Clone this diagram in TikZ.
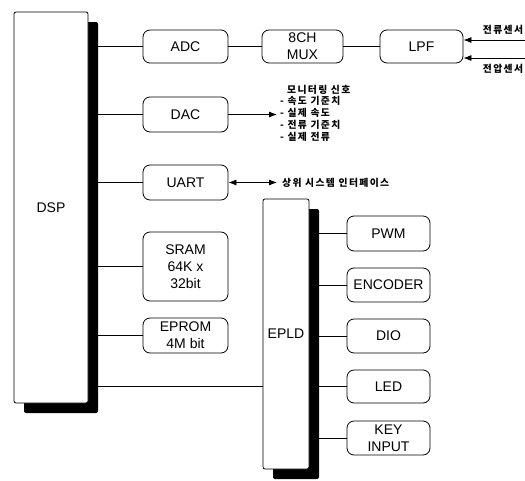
\documentclass[tikz,border=0pt]{standalone}
\usepackage{fontspec}
\setmainfont{Liberation Sans}
\newfontfamily\kr{Noto Sans CJK KR}[LetterSpace=14]
\usetikzlibrary{shadows,arrows.meta,backgrounds}
\begin{document}
\begin{tikzpicture}[x=1pt,y=-1pt,
 blk/.style={draw,line width=0.8pt,rounded corners=7pt,inner sep=0pt,align=center,font=\fontsize{14}{17}\selectfont,fill=white},
 big/.style={draw,line width=0.8pt,rounded corners=2pt,fill=white,inner sep=0pt,font=\fontsize{14}{17}\selectfont,drop shadow={shadow xshift=10pt,shadow yshift=-10pt,fill=black,opacity=1}},
 wire/.style={line width=0.8pt},
 arr/.style={line width=0.8pt,-{Latex[length=8pt,width=6pt]}},
 darr/.style={line width=0.8pt,{Latex[length=8pt,width=6pt]}-{Latex[length=8pt,width=6pt]}},
 kt/.style={font=\kr\bfseries\fontsize{9.8}{12}\selectfont,inner sep=0pt,align=left}]
\useasboundingbox (0,0) rectangle (525,480);
% big blocks
\node[big,minimum width=74pt,minimum height=391pt] (dsp) at (51,207.5) {DSP};
\node[big,minimum width=46pt,minimum height=270pt] (epld) at (286,334) {EPLD};
% left column
\node[blk,minimum width=85pt,minimum height=33pt] (adc) at (185.5,46.5) {ADC};
\node[blk,minimum width=81pt,minimum height=33pt] (mux) at (302.5,46.5) {8CH\\MUX};
\node[blk,minimum width=83pt,minimum height=33pt] (lpf) at (421.5,46.5) {LPF};
\node[blk,minimum width=85pt,minimum height=35pt] (dac) at (185.5,114.5) {DAC};
\node[blk,minimum width=85pt,minimum height=35pt] (uart) at (185.5,182.5) {UART};
\node[blk,minimum width=85pt,minimum height=69pt] (sram) at (185.5,266.5) {SRAM\\64K x\\ 32bit};
\node[blk,minimum width=85pt,minimum height=35pt] (eprom) at (185.5,335.5) {EPROM\\4M bit};
% right column
\node[blk,minimum width=83pt,minimum height=35pt] (pwm) at (388.5,233.5) {PWM};
\node[blk,minimum width=83pt,minimum height=34pt] (enc) at (388.5,285) {ENCODER};
\node[blk,minimum width=83pt,minimum height=34pt] (dio) at (388.5,336) {DIO};
\node[blk,minimum width=83pt,minimum height=33pt] (led) at (388.5,386.5) {LED};
\node[blk,minimum width=83pt,minimum height=34pt] (key) at (388.5,438) {KEY\\INPUT};
% texts
\node[kt,anchor=west] (montitle) at (287,90) {모니터링 신호};
\node[kt,anchor=north west] (monlist) at (280,96) {- 속도 기준치\\- 실제 속도\\- 전류 기준치\\- 실제 전류};
\node[kt,anchor=west] (host) at (282,182.5) {상위 시스템 인터페이스};
\node[kt] (cur) at (503,30) {전류센서};
\node[kt] (vol) at (503,69) {전압센서};
\coordinate (s1) at (525,40);
\coordinate (s2) at (525,58);
\coordinate (bus) at (200,386);
% connectors
\begin{pgfonlayer}{background}
\draw[wire] (adc.west) -- (adc.west -| dsp.east);
\draw[wire] (dac.west) -- (dac.west -| dsp.east);
\draw[wire] (uart.west) -- (uart.west -| dsp.east);
\draw[wire] (sram.west) -- (sram.west -| dsp.east);
\draw[wire] (eprom.west) -- (eprom.west -| dsp.east);
\draw[wire] (bus -| dsp.east) -- (bus -| epld.west);
\draw[wire] (pwm.west) -- (pwm.west -| epld.east);
\draw[wire] (enc.west) -- (enc.west -| epld.east);
\draw[wire] (dio.west) -- (dio.west -| epld.east);
\draw[wire] (led.west) -- (led.west -| epld.east);
\draw[wire] (key.west) -- (key.west -| epld.east);
\end{pgfonlayer}
\draw[wire] (adc) -- (mux);
\draw[wire] (mux) -- (lpf);
\draw[arr] (s1) -- (s1 -| lpf.east);
\draw[arr] (s2) -- (s2 -| lpf.east);
\draw[arr] (dac.east) -- ([xshift=-3pt]dac.east -| monlist.west);
\draw[darr] (uart.east) -- ([xshift=-5pt]uart.east -| host.west);
\end{tikzpicture}
\end{document}
